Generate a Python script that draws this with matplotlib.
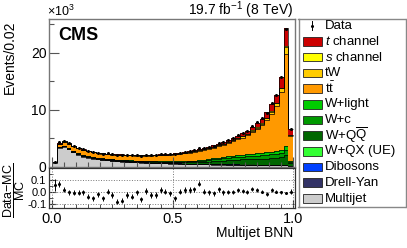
import numpy as np
import matplotlib.pyplot as plt
from matplotlib.patches import Rectangle
from matplotlib.ticker import MultipleLocator

plt.rcParams['font.family'] = ['Liberation Sans', 'DejaVu Sans']
plt.rcParams['mathtext.fontset'] = 'custom'
plt.rcParams['mathtext.rm'] = 'Liberation Sans'
plt.rcParams['mathtext.it'] = 'Liberation Sans:italic'
plt.rcParams['mathtext.bf'] = 'Liberation Sans:bold'

# Multijet BNN, 50 bins of 0.02, events per bin in units of 10^3
multijet = [0.70, 3.30, 3.45, 3.00, 2.50, 2.10, 1.75, 1.55, 1.40, 1.28, 1.18, 1.08, 1.00, 0.93, 0.87, 0.82, 0.77,
            0.73, 0.69, 0.66, 0.63, 0.60, 0.57, 0.55, 0.52, 0.50, 0.48, 0.46, 0.44, 0.42, 0.40, 0.38, 0.36, 0.35,
            0.33, 0.32, 0.31, 0.30, 0.29, 0.28, 0.27, 0.26, 0.25, 0.24, 0.23, 0.22, 0.21, 0.20, 0.20, 0.10]
drellyan = [0.01, 0.06, 0.07, 0.07, 0.06, 0.06, 0.05, 0.05, 0.05, 0.05, 0.04, 0.04, 0.04, 0.04, 0.04, 0.04, 0.04,
            0.04, 0.04, 0.04, 0.04, 0.04, 0.04, 0.04, 0.04, 0.04, 0.04, 0.04, 0.04, 0.04, 0.04, 0.04, 0.04, 0.04,
            0.04, 0.04, 0.04, 0.04, 0.04, 0.04, 0.04, 0.04, 0.04, 0.04, 0.04, 0.05, 0.05, 0.05, 0.06, 0.03]
dibosons = [0.00, 0.02, 0.02, 0.02, 0.02, 0.02, 0.02, 0.02, 0.02, 0.02, 0.02, 0.02, 0.02, 0.02, 0.02, 0.02, 0.02,
            0.02, 0.02, 0.02, 0.02, 0.02, 0.02, 0.02, 0.02, 0.02, 0.02, 0.02, 0.02, 0.02, 0.02, 0.02, 0.02, 0.03,
            0.03, 0.03, 0.03, 0.03, 0.03, 0.03, 0.03, 0.03, 0.03, 0.03, 0.03, 0.04, 0.04, 0.04, 0.05, 0.02]
wqx = [0.00, 0.01, 0.01, 0.01, 0.01, 0.01, 0.01, 0.01, 0.01, 0.01, 0.01, 0.01, 0.01, 0.01, 0.01, 0.01, 0.01,
       0.01, 0.01, 0.01, 0.01, 0.01, 0.01, 0.01, 0.01, 0.01, 0.01, 0.01, 0.02, 0.02, 0.02, 0.02, 0.02, 0.02,
       0.02, 0.02, 0.02, 0.03, 0.03, 0.03, 0.03, 0.03, 0.03, 0.03, 0.03, 0.03, 0.03, 0.03, 0.04, 0.01]
wqq = [0.01, 0.04, 0.05, 0.06, 0.07, 0.07, 0.08, 0.08, 0.09, 0.09, 0.10, 0.10, 0.10, 0.11, 0.11, 0.11, 0.11,
       0.12, 0.12, 0.13, 0.13, 0.14, 0.14, 0.15, 0.16, 0.17, 0.18, 0.20, 0.23, 0.25, 0.30, 0.36, 0.43, 0.50,
       0.57, 0.64, 0.70, 0.75, 0.80, 0.85, 0.89, 0.94, 0.98, 1.02, 1.07, 1.13, 1.20, 1.28, 1.63, 0.40]
wc = [0.00, 0.02, 0.03, 0.04, 0.04, 0.04, 0.04, 0.05, 0.05, 0.05, 0.06, 0.06, 0.06, 0.06, 0.07, 0.07, 0.07,
      0.07, 0.07, 0.07, 0.08, 0.08, 0.08, 0.09, 0.10, 0.10, 0.11, 0.12, 0.13, 0.15, 0.18, 0.22, 0.26, 0.30,
      0.34, 0.38, 0.42, 0.45, 0.48, 0.51, 0.53, 0.56, 0.58, 0.61, 0.64, 0.67, 0.72, 0.76, 0.97, 0.24]
wlight = [0.00, 0.02, 0.02, 0.02, 0.02, 0.03, 0.03, 0.03, 0.03, 0.04, 0.04, 0.04, 0.04, 0.04, 0.04, 0.04, 0.04,
          0.05, 0.05, 0.05, 0.05, 0.05, 0.06, 0.06, 0.06, 0.07, 0.07, 0.08, 0.09, 0.10, 0.12, 0.14, 0.17, 0.20,
          0.23, 0.25, 0.28, 0.30, 0.32, 0.34, 0.36, 0.38, 0.39, 0.41, 0.43, 0.45, 0.48, 0.51, 0.65, 0.16]
ttbar = [0.02, 0.48, 0.67, 0.75, 0.80, 0.84, 0.89, 0.88, 0.82, 0.78, 0.78, 0.80, 0.82, 0.82, 0.83, 0.85, 0.88,
         0.89, 0.90, 0.92, 0.96, 1.00, 1.05, 1.10, 1.17, 1.23, 1.30, 1.38, 1.46, 1.59, 1.68, 1.75, 1.81, 1.88,
         2.03, 2.16, 2.29, 2.52, 2.76, 3.01, 3.35, 3.85, 4.28, 4.86, 5.67, 6.67, 7.90, 10.28, 16.20, 4.34]
tw = [0.00, 0.04, 0.06, 0.06, 0.06, 0.06, 0.06, 0.06, 0.06, 0.06, 0.06, 0.06, 0.06, 0.06, 0.06, 0.06, 0.06,
      0.06, 0.06, 0.06, 0.06, 0.06, 0.07, 0.07, 0.07, 0.07, 0.08, 0.08, 0.08, 0.09, 0.09, 0.10, 0.10, 0.11,
      0.12, 0.13, 0.14, 0.15, 0.17, 0.18, 0.20, 0.22, 0.25, 0.28, 0.32, 0.38, 0.45, 0.60, 1.15, 0.25]
schan = [0.00, 0.01, 0.01, 0.01, 0.01, 0.01, 0.01, 0.01, 0.01, 0.01, 0.01, 0.01, 0.01, 0.01, 0.01, 0.01, 0.01,
         0.01, 0.01, 0.01, 0.01, 0.01, 0.01, 0.01, 0.01, 0.01, 0.01, 0.01, 0.01, 0.01, 0.02, 0.02, 0.02, 0.02,
         0.02, 0.02, 0.02, 0.03, 0.03, 0.03, 0.03, 0.04, 0.04, 0.04, 0.05, 0.06, 0.07, 0.10, 0.25, 0.05]
tchan = [0.01, 0.05, 0.06, 0.06, 0.06, 0.06, 0.06, 0.06, 0.06, 0.06, 0.06, 0.06, 0.06, 0.07, 0.07, 0.07, 0.07,
         0.07, 0.08, 0.08, 0.08, 0.09, 0.09, 0.10, 0.10, 0.11, 0.12, 0.13, 0.14, 0.16, 0.18, 0.20, 0.22, 0.25,
         0.28, 0.31, 0.35, 0.40, 0.45, 0.50, 0.57, 0.65, 0.73, 0.85, 1.00, 1.20, 1.45, 1.85, 3.20, 1.00]

# (Data-MC)/MC and its uncertainty
ratio = [0.058, 0.064, 0.017, -0.003, -0.006, -0.006, -0.003, -0.039, -0.053, -0.019, -0.053, 0.003, -0.025,
         -0.080, -0.072, -0.025, -0.039, -0.003, -0.061, 0.008, -0.025, -0.025, 0.017, 0.003, -0.011, -0.053,
         0.003, 0.017, 0.017, 0.022, 0.067, 0.003, -0.003, -0.011, 0.022, -0.003, -0.003, -0.003, 0.017, 0.008,
         -0.003, 0.022, 0.017, 0.003, -0.017, 0.017, 0.003, -0.003, -0.011, 0.003]
ratio_err = [0.050, 0.025, 0.020, 0.020, 0.020, 0.020, 0.020, 0.020, 0.020, 0.020, 0.020, 0.022, 0.022, 0.022,
             0.022, 0.022, 0.022, 0.022, 0.022, 0.022, 0.022, 0.022, 0.022, 0.022, 0.022, 0.022, 0.022, 0.022,
             0.022, 0.020, 0.020, 0.020, 0.020, 0.020, 0.020, 0.020, 0.018, 0.018, 0.018, 0.018, 0.016, 0.016,
             0.015, 0.015, 0.015, 0.014, 0.013, 0.012, 0.010, 0.018]

stack = [
    ('Multijet', multijet, '#cccccc'),
    ('Drell-Yan', drellyan, '#333366'),
    ('Dibosons', dibosons, '#0040ff'),
    ('W+QX (UE)', wqx, '#33ff33'),
    (r'W+Q$\overline{\mathrm{Q}}$', wqq, '#006600'),
    ('W+c', wc, '#009900'),
    ('W+light', wlight, '#00cc00'),
    (r'$\mathrm{t\bar{t}}$', ttbar, '#ff9900'),
    ('tW', tw, '#ffcc00'),
    (r'$\mathit{s}$ channel', schan, '#ffff00'),
    (r'$\mathit{t}$ channel', tchan, '#cc0000'),
]

edges = np.linspace(0, 1, 51)
centers = 0.5 * (edges[:-1] + edges[1:])

fig = plt.figure(figsize=(4.07, 2.48), dpi=100)
W, H = 407, 248
ax = fig.add_axes([48.5 / W, 1 - 166.5 / H, 246 / W, 147.5 / H])
rax = fig.add_axes([48.5 / W, 1 - 207.7 / H, 246 / W, 39.5 / H])

bottom = np.zeros(50)
for name, vals, col in stack:
    top = bottom + np.array(vals)
    ax.stairs(top, edges, baseline=bottom, fill=True, color=col, lw=0)
    ax.stairs(top, edges, baseline=None, color='black', lw=0.5)
    bottom = top
total = bottom
data = total * (1 + np.array(ratio))
ax.errorbar(centers, data, yerr=total * np.array(ratio_err), fmt='o', ms=1.2, color='black',
            elinewidth=0.7, capsize=0)

ax.set_xlim(-0.015, 1.005)
ax.set_ylim(0, 25.9)
ax.set_xticks([0, 0.5, 1.0])
ax.xaxis.set_minor_locator(MultipleLocator(0.05))
ax.set_xticklabels([])
ax.set_yticks([0, 10, 20])
ax.yaxis.set_minor_locator(MultipleLocator(5))
ax.tick_params(direction='in', labelsize=10, pad=1.5, color='#555555', length=7, width=0.8)
ax.tick_params(which='minor', direction='in', length=3.5, color='#555555', width=0.8)
for s in ax.spines.values():
    s.set_color('#777777')
    s.set_linewidth(1.0)

# ratio panel
for y in [-0.1, 0.0, 0.1]:
    rax.axhline(y, color='#777777', ls=':', lw=0.7)
for x in [0.0, 0.5, 1.0]:
    rax.axvline(x, color='#777777', ls=':', lw=0.7)
rax.errorbar(centers, ratio, yerr=ratio_err, fmt='o', ms=1.2, color='black', elinewidth=0.7, capsize=0)
rax.set_xlim(-0.015, 1.005)
rax.set_ylim(-0.13, 0.195)
rax.set_xticks([0, 0.5, 1.0])
rax.set_xticklabels(['0.0', '0.5', '1.0'])
rax.xaxis.set_minor_locator(MultipleLocator(0.05))
rax.set_yticks([-0.1, 0.0, 0.1])
rax.set_yticklabels(['-0.1', '0.0', '0.1'])
rax.yaxis.set_minor_locator(MultipleLocator(0.05))
rax.tick_params(axis='x', direction='in', labelsize=10.5, pad=3, length=6, color='#333333')
rax.tick_params(axis='y', direction='in', labelsize=8, pad=1.5, length=5, color='#333333')
rax.tick_params(which='minor', direction='in', length=3, color='#333333')
for s in rax.spines.values():
    s.set_color('#333333')
    s.set_linewidth(0.9)

# texts
fig.text(10 / W, 1 - 20 / H, 'Events/0.02', rotation=90, ha='center', va='top', fontsize=10)
fig.text(47 / W, 1 - 11 / H, r'$\times$10$^{3}$', ha='left', va='center', fontsize=9)
fig.text(293 / W, 1 - 10 / H, r'19.7 fb$^{-1}$ (8 TeV)', ha='right', va='center', fontsize=10)
fig.text(58 / W, 1 - 35 / H, 'CMS', ha='left', va='center', fontsize=13, fontweight='bold')
fig.text(293 / W, 1 - 233 / H, 'Multijet BNN', ha='right', va='center', fontsize=10)
fig.text(14.5 / W, 1 - 190 / H, r'$\dfrac{\mathrm{Data{-}MC}}{\mathrm{MC}}$', rotation=90,
         ha='center', va='center', fontsize=9)

# legend
lax = fig.add_axes([298.5 / W, 1 - 206.5 / H, 107 / W, 187.5 / H])
lax.set_xlim(298.5, 405.5)
lax.set_ylim(206.5, 19)
lax.set_xticks([])
lax.set_yticks([])
for s in lax.spines.values():
    s.set_color('#888888')
    s.set_linewidth(1.0)
ys = np.linspace(25.7, 198.5, 12)
lax.plot([312.5], [ys[0]], 'o', ms=1.2, color='black')
lax.plot([312.5, 312.5], [ys[0] - 4.5, ys[0] + 4.5], color='black', lw=0.7)
lax.text(325, ys[0], 'Data', ha='left', va='center', fontsize=9.5)
for (name, vals, col), y in zip(stack[::-1], ys[1:]):
    lax.add_patch(Rectangle((303, y - 4.3), 19, 8.6, facecolor=col, edgecolor='#222222', lw=0.6))
    lax.text(325, y, name, ha='left', va='center', fontsize=9.5)

fig.savefig('out.png', dpi=100)
